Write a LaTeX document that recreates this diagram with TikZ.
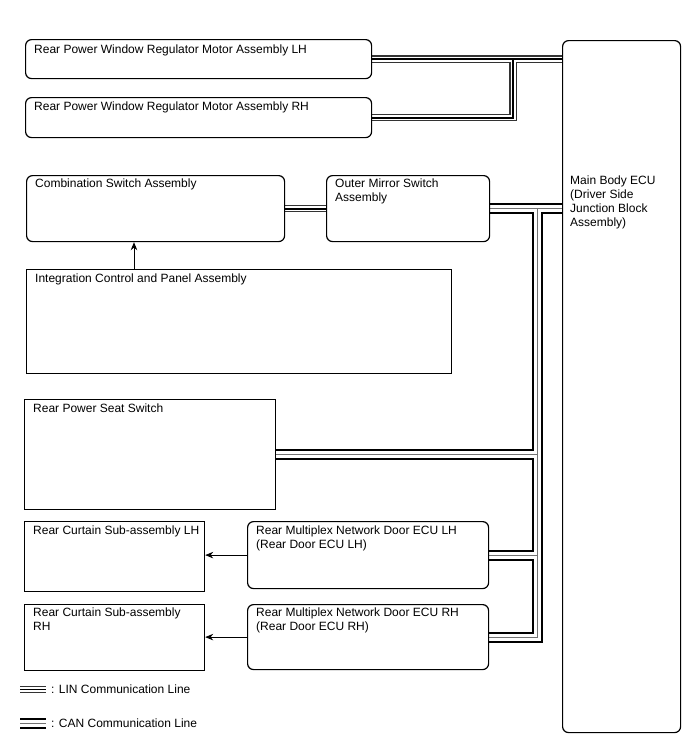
\documentclass[tikz,border=0pt]{standalone}
\usepackage{fontspec}
\setmainfont{Liberation Sans}
\usetikzlibrary{arrows.meta}
\pgfdeclarelayer{bg}
\pgfsetlayers{bg,main}
\newcommand\linpaths[1]{%
  \draw[#1] (LH.east) -- (LH.east -| ECU.west);
  \draw[#1] (RH.east) -| (jx |- LH.east);
  \draw[#1] (Comb.east) -- (OM.west);
  \draw[#1] (leglinA) -- (leglinB);
}
\newcommand\canpaths[1]{%
  \draw[#1] (OM.east) -- (OM.east -| ECU.west);
  \draw[#1] (OM.east -| tx) -- (DRH.east -| tx) -- (DRH.east);
  \draw[#1] (Seat.east) -- (Seat.east -| tx);
  \draw[#1] (DLH.east) -- (DLH.east -| tx);
  \draw[#1] (legcanA) -- (legcanB);
}
\newcommand\sr{\rule{0pt}{10pt}}
\begin{document}
\begin{tikzpicture}[x=1pt,y=-1pt,
  box/.style={draw, line width=1.2pt, inner sep=0pt, anchor=north west},
  rbox/.style={box, rounded corners=6pt},
  lbl/.style={anchor=north west, inner sep=0pt, align=left, font=\fontsize{12}{14}\selectfont},
  arr/.style={line width=0.9pt, -{Stealth[length=8pt,width=6.5pt]}},
  linA/.style={line width=7.6pt, draw=black!80},
  linB/.style={line width=5pt, draw=white},
  linC/.style={line width=1.8pt, draw=black},
  canA/.style={line width=11pt, draw=black},
  canB/.style={line width=7pt, draw=white},
  canC/.style={line width=0.8pt, draw=black!55}]
\useasboundingbox (0,0) rectangle (688,755);

% boxes
\node[rbox, minimum width=346pt, minimum height=39pt] (LH) at (25,39) {};
\node[rbox, minimum width=346pt, minimum height=40pt] (RH) at (25,97) {};
\node[rbox, minimum width=118pt, minimum height=692pt] (ECU) at (562,40) {};
\node[rbox, minimum width=258pt, minimum height=66pt] (Comb) at (26,175) {};
\node[rbox, minimum width=163pt, minimum height=66pt] (OM) at (326,175) {};
\node[box, minimum width=425pt, minimum height=104pt] (Int) at (26,269) {};
\node[box, minimum width=251pt, minimum height=110pt] (Seat) at (24,399) {};
\node[box, minimum width=180pt, minimum height=70pt] (CLH) at (24,521) {};
\node[rbox, minimum width=241pt, minimum height=67pt] (DLH) at (247,521) {};
\node[box, minimum width=180pt, minimum height=66pt] (CRH) at (24,604) {};
\node[rbox, minimum width=241pt, minimum height=65pt] (DRH) at (247,604) {};

% labels
\node[lbl] (LHt) at ([shift={(9,4)}]LH.north west) {\sr Rear Power Window Regulator Motor Assembly LH};
\node[lbl] (RHt) at ([shift={(9,3)}]RH.north west) {\sr Rear Power Window Regulator Motor Assembly RH};
\node[lbl] (ECUt) at ([shift={(8,134)}]ECU.north west) {\sr Main Body ECU\\(Driver Side\\Junction Block\\Assembly)};
\node[lbl] (Combt) at ([shift={(9,2)}]Comb.north west) {\sr Combination Switch Assembly};
\node[lbl] (OMt) at ([shift={(9,2)}]OM.north west) {\sr Outer Mirror Switch\\Assembly};
\node[lbl] (Intt) at ([shift={(9,3)}]Int.north west) {\sr Integration Control and Panel Assembly};
\node[lbl] (Seatt) at ([shift={(9,3)}]Seat.north west) {\sr Rear Power Seat Switch};
\node[lbl] (CLHt) at ([shift={(9,3)}]CLH.north west) {\sr Rear Curtain Sub-assembly LH};
\node[lbl] (DLHt) at ([shift={(9,3)}]DLH.north west) {\sr Rear Multiplex Network Door ECU LH\\(Rear Door ECU LH)};
\node[lbl] (CRHt) at ([shift={(9,2)}]CRH.north west) {\sr Rear Curtain Sub-assembly\\RH};
\node[lbl] (DRHt) at ([shift={(9,2)}]DRH.north west) {\sr Rear Multiplex Network Door ECU RH\\(Rear Door ECU RH)};

% helper coordinates
\coordinate (jx) at (513,0);
\coordinate (tx) at (537.5,0);
\coordinate (ax) at (134,0);
\coordinate (leglinA) at (20,689.5);
\coordinate (leglinB) at (46,689.5);
\coordinate (legcanA) at (20,723.5);
\coordinate (legcanB) at (46,723.5);

% legend text
\node[lbl, anchor=base west] (legLIN) at (51,693.5) {: LIN Communication Line};
\node[lbl, anchor=base west] (legCAN) at (51,727.5) {: CAN Communication Line};

% communication lines
\begin{pgfonlayer}{bg}
  \linpaths{linA}
  \linpaths{linB}
  \linpaths{linC}
  \canpaths{canA}
  \canpaths{canB}
  \canpaths{canC}
\end{pgfonlayer}

% arrows
\draw[arr] (Int.north -| ax) -- (Comb.south -| ax);
\draw[arr] (DLH.west) -- (DLH.west -| CLH.east);
\draw[arr] (DRH.west) -- (DRH.west -| CRH.east);
\end{tikzpicture}
\end{document}
